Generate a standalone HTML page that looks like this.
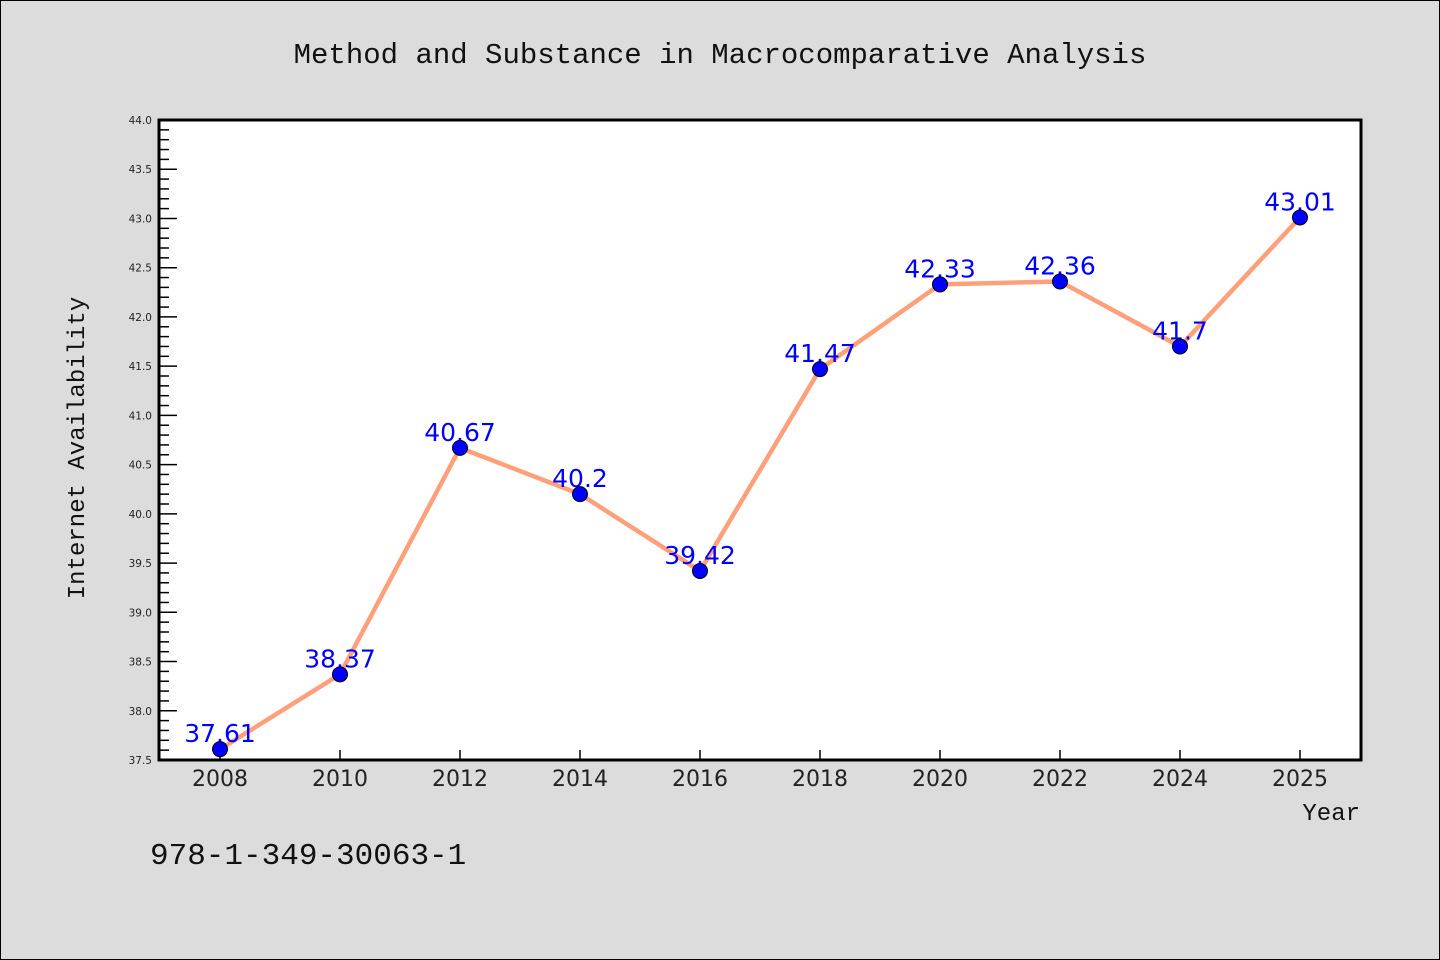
<!DOCTYPE html>
<html><head><meta charset="utf-8"><style>
html,body{margin:0;padding:0;background:#dcdcdc;}
svg{display:block;}
</style></head><body>
<svg id="chart" width="1440" height="960" xmlns="http://www.w3.org/2000/svg">
<rect x="0.5" y="0.5" width="1439" height="959" fill="#dcdcdc" stroke="#000" stroke-width="1"/>
<text x="720" y="63" text-anchor="middle" font-family="Liberation Mono, monospace" font-size="29" fill="#111">Method and Substance in Macrocomparative Analysis</text>
<rect x="159" y="120" width="1202" height="640" fill="#fff"/>
<g id="yticks"></g>
<g id="xticks"></g>
<g id="series"></g>
<rect x="159" y="120" width="1202" height="640" fill="none" stroke="#000" stroke-width="3"/>
<text transform="translate(84,448) rotate(-90)" text-anchor="middle" font-family="Liberation Mono, monospace" font-size="24" fill="#111">Internet Availability</text>
<text x="1360" y="820" text-anchor="end" font-family="Liberation Mono, monospace" font-size="24" fill="#111">Year</text>
<text x="150" y="864" font-family="Liberation Mono, monospace" font-size="31" fill="#111">978-1-349-30063-1</text>
</svg>
<script>
const categories = ["2008","2010","2012","2014","2016","2018","2020","2022","2024","2025"];
const values = [37.61,38.37,40.67,40.2,39.42,41.47,42.33,42.36,41.7,43.01];
const valueLabels = ["37.61","38.37","40.67","40.2","39.42","41.47","42.33","42.36","41.7","43.01"];
const yTickLabels = ["37.5","38.0","38.5","39.0","39.5","40.0","40.5","41.0","41.5","42.0","42.5","43.0","43.5","44.0"];
const yMin = 37.5, yMax = 44.0;
const NS = "http://www.w3.org/2000/svg";
const L=159,R=1361,T=120,B=760;
function y(v){return B-(v-yMin)/(yMax-yMin)*(B-T);}
function x(i){return 220+i*120;}
function mk(tag,attrs,parent){const e=document.createElementNS(NS,tag);for(const k in attrs)e.setAttribute(k,attrs[k]);parent.appendChild(e);return e;}
const yg=document.getElementById('yticks');
for(let k=0;k<=65;k++){const v=yMin+k*0.1;const major=k%5===0;
 const t=mk('line',{x1:L,x2:L+(major?18:10),y1:y(v),y2:y(v),stroke:'#000','stroke-width':1.5},yg);
 
 }
yTickLabels.forEach(s=>{const t=mk('text',{x:152,y:y(parseFloat(s))+4,'text-anchor':'end','font-family':'DejaVu Sans, sans-serif','font-size':10.5,fill:'#222'},yg);t.textContent=s;
 
 });
const xg=document.getElementById('xticks');
categories.forEach((c,i)=>{const t=mk('line',{x1:x(i),x2:x(i),y1:B,y2:B-10,stroke:'#000','stroke-width':1.5},xg);
 
 
 const l=mk('text',{x:x(i),y:786,'text-anchor':'middle','font-family':'DejaVu Sans, sans-serif','font-size':22,fill:'#222'},xg);l.textContent=c;
 
 });
const sg=document.getElementById('series');
const line=mk('polyline',{points:values.map((v,i)=>x(i)+','+y(v)).join(' '),fill:'none',stroke:'#ffa07a','stroke-width':4.5,'stroke-linejoin':'round'},sg);


values.forEach((v,i)=>{const t=mk('text',{x:x(i),y:y(v)-7,'text-anchor':'middle','font-family':'DejaVu Sans, sans-serif','font-size':25,fill:'#0000ff'},sg);t.textContent=valueLabels[i];
 
 });
values.forEach((v,i)=>{const c=mk('circle',{cx:x(i),cy:y(v),r:7.5,fill:'#0000ff',stroke:'#000','stroke-width':1},sg);
 
 });
</script>
</body></html>
